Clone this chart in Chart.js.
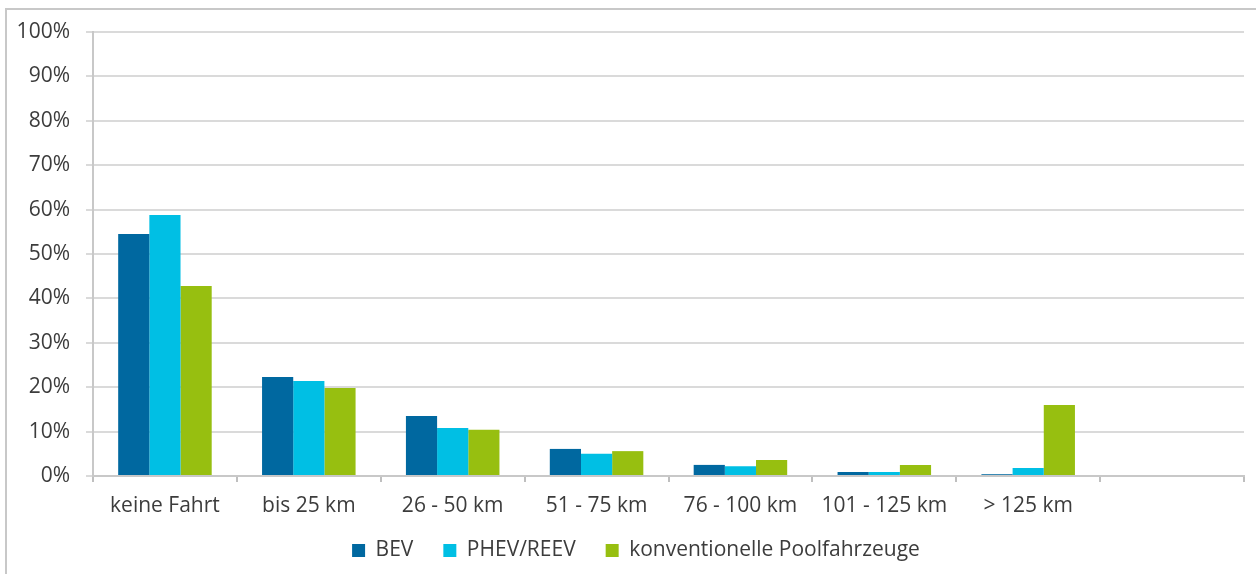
<!DOCTYPE html>
<html>
<head>
<meta charset="utf-8">
<script src="https://cdn.jsdelivr.net/npm/chart.js@4/dist/chart.umd.min.js"></script>
<style>
html,body{margin:0;padding:0;background:#fff;}
#wrap{position:absolute;left:0;top:0;width:1256px;height:574px;}
</style>
</head>
<body>
<div id="wrap"><canvas id="c" width="1256" height="574"></canvas></div>
<script>
const categories = ["keine Fahrt", "bis 25 km", "26 - 50 km", "51 - 75 km", "76 - 100 km", "101 - 125 km", "> 125 km", ""];
const bev = [54.5, 22.3, 13.5, 6.1, 2.5, 0.9, 0.4, null];
const phev = [58.8, 21.4, 10.8, 5.0, 2.2, 0.9, 1.8, null];
const konv = [42.8, 19.8, 10.4, 5.6, 3.6, 2.5, 16.0, null];
const seriesNames = ["BEV", "PHEV/REEV", "konventionelle Poolfahrzeuge"];
const yTicks = [0, 10, 20, 30, 40, 50, 60, 70, 80, 90, 100];

const frame = {
  id: 'frame',
  beforeDraw(chart) {
    const ctx = chart.ctx;
    ctx.save();
    ctx.fillStyle = '#fff';
    ctx.fillRect(0, 0, chart.width, chart.height);
    ctx.strokeStyle = '#c8c8c8';
    ctx.lineWidth = 2;
    ctx.strokeRect(6, 9, chart.width + 10, chart.height + 10);
    ctx.restore();
  }
};

// keep wide horizontal spacing between legend items but a compact legend height
const legendTweak = {
  id: 'legendTweak',
  beforeLayout(chart) {
    const lg = chart.legend;
    if (!lg || lg._tweaked) return;
    lg._tweaked = true;
    const origFit = lg.fit;
    lg.fit = function () { origFit.call(this); this.height = 52; };
    const origDraw = lg.draw;
    lg.draw = function () {
      const t = this.top, l = this.left, r = this.right;
      this.top = t - 12;
      this.left = l + 14;
      this.right = r + 14;
      origDraw.call(this);
      this.top = t; this.left = l; this.right = r;
    };
  }
};

Chart.defaults.font.family = '"Open Sans", Lato, sans-serif';
Chart.defaults.font.size = 21;
Chart.defaults.color = '#3c3c3c';

new Chart(document.getElementById('c'), {
  type: 'bar',
  data: {
    labels: categories,
    datasets: [
      { label: seriesNames[0], data: bev, backgroundColor: '#0068a0' },
      { label: seriesNames[1], data: phev, backgroundColor: '#00bfe4' },
      { label: seriesNames[2], data: konv, backgroundColor: '#97bf10' }
    ]
  },
  plugins: [frame, legendTweak],
  options: {
    responsive: false,
    animation: false,
    devicePixelRatio: 1,
    layout: { padding: { left: 0, right: 12, top: 32, bottom: 0 } },
    datasets: { bar: { barPercentage: 1.0, categoryPercentage: 0.65 } },
    scales: {
      x: {
        grid: { drawOnChartArea: false, drawTicks: true, tickLength: 6, color: '#bfbfbf', lineWidth: 2 },
        border: { color: '#c8c8c8', width: 2 },
        ticks: { padding: 11, maxRotation: 0, autoSkip: false },
        afterFit(s) { s.height = 46; }
      },
      y: {
        min: 0, max: 100,
        afterBuildTicks(s) { s.ticks = yTicks.map(v => ({ value: v })); },
        grid: { color: '#dadada', lineWidth: 2, drawTicks: true, tickLength: 7 },
        border: { color: '#c8c8c8', width: 2 },
        ticks: { padding: 16, callback: v => v + '%' },
        afterFit(s) { s.width = 93; }
      }
    },
    plugins: {
      legend: {
        position: 'bottom',
        labels: { boxWidth: 13, boxHeight: 13, padding: 30, color: '#3c3c3c' }
      },
      tooltip: { enabled: false }
    }
  }
});
</script>
</body>
</html>
